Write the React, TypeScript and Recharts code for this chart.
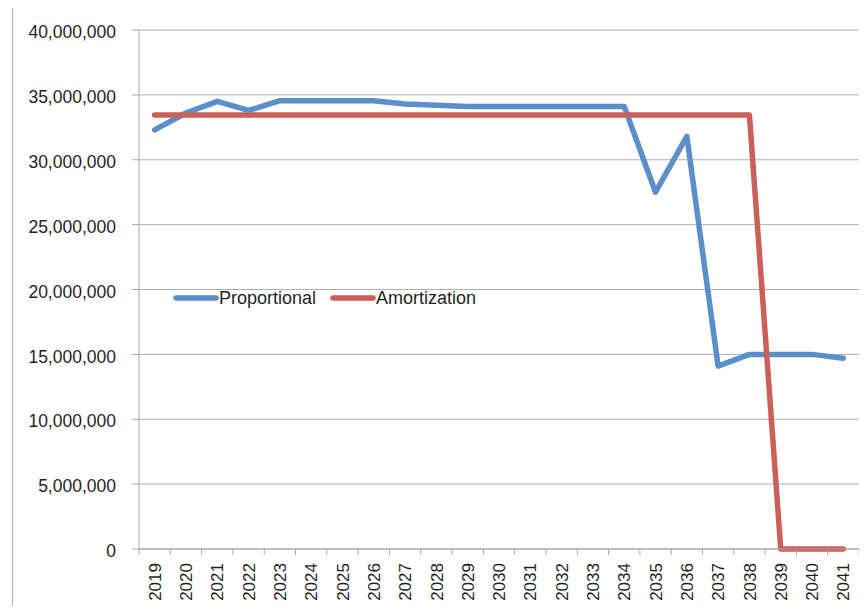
import React from 'react';
import { LineChart, Line, XAxis, YAxis, CartesianGrid, Legend } from 'recharts';

const years = ['2019','2020','2021','2022','2023','2024','2025','2026','2027','2028','2029','2030','2031','2032','2033','2034','2035','2036','2037','2038','2039','2040','2041'];
const proportional = [32300000,33600000,34500000,33800000,34550000,34550000,34550000,34550000,34300000,34200000,34100000,34100000,34100000,34100000,34100000,34100000,27500000,31800000,14100000,15000000,15000000,15000000,14700000];
const amortization = [33450000,33450000,33450000,33450000,33450000,33450000,33450000,33450000,33450000,33450000,33450000,33450000,33450000,33450000,33450000,33450000,33450000,33450000,33450000,33450000,0,0,0];
const yTicks = [0,5000000,10000000,15000000,20000000,25000000,30000000,35000000,40000000];

const data = years.map((y, i) => ({ year: y, Proportional: proportional[i], Amortization: amortization[i] }));

const BLUE = '#5b8fc9';
const RED = '#cb5f59';
const AXIS = '#a6a6a6';
const FONT = '"Liberation Sans", Arial, sans-serif';

const CHART_W = 867;
const CHART_H = 614;
const M = { top: 30, right: 8, left: 0, bottom: 0 };
const Y_W = 139;
const X_H = 65;
const BAND = (CHART_W - M.right - Y_W) / years.length;
const X_TICK_SIZE = 6;
const X_TICK_MARGIN = 8;
const LINE_W = 5.5;

const fmt = (v: number) => v.toLocaleString('en-US');

const XTick = (props: any) => {
  const { x, y, payload, index } = props;
  const axisY = y - X_TICK_SIZE - X_TICK_MARGIN;
  const left = x - BAND / 2;
  const right = x + BAND / 2;
  return (
    <g>
      <line x1={left} x2={left} y1={axisY} y2={axisY + X_TICK_SIZE} stroke={AXIS} />
      {index === years.length - 1 && (
        <line x1={right} x2={right} y1={axisY} y2={axisY + X_TICK_SIZE} stroke={AXIS} />
      )}
      <text
        x={x}
        y={y}
        dy="0.36em"
        textAnchor="end"
        transform={`rotate(-90, ${x}, ${y})`}
        fontSize={17}
        fontFamily={FONT}
        fill="#1f1f1f"
      >
        {payload.value}
      </text>
    </g>
  );
};

const LegendContent = () => {
  const items = [
    { name: 'Proportional', color: BLUE },
    { name: 'Amortization', color: RED },
  ];
  return (
    <div style={{ display: 'flex', alignItems: 'center', fontFamily: FONT, fontSize: 18, color: '#1f1f1f', whiteSpace: 'nowrap' }}>
      {items.map((it, i) => (
        <div key={it.name} style={{ display: 'flex', alignItems: 'center', marginRight: i === 0 ? 14 : 0 }}>
          <svg width={46} height={10} style={{ display: 'block' }}>
            <line x1={3} x2={43} y1={5} y2={5} stroke={it.color} strokeWidth={LINE_W} strokeLinecap="round" />
          </svg>
          <span style={{ lineHeight: '20px' }}>{it.name}</span>
        </div>
      ))}
    </div>
  );
};

export default function App() {
  return (
    <div style={{ position: 'relative', width: CHART_W, height: CHART_H, margin: -8, overflow: 'hidden', background: '#fff' }}>
      <div style={{ position: 'absolute', left: 12, top: 4, width: 900, height: 700, border: '1px solid #b4b4b4', boxSizing: 'border-box' }} />
      <div style={{ position: 'absolute', left: 0, top: 0 }}>
        <LineChart width={CHART_W} height={CHART_H} data={data} margin={M}>
          <CartesianGrid vertical={false} stroke="#b0b0b0" strokeWidth={1} />
          <XAxis
            dataKey="year"
            scale="band"
            height={X_H}
            interval={0}
            tickLine={false}
            tickSize={X_TICK_SIZE}
            tickMargin={X_TICK_MARGIN}
            axisLine={{ stroke: AXIS }}
            tick={<XTick />}
          />
          <YAxis
            width={Y_W}
            domain={[0, 40000000]}
            ticks={yTicks}
            interval={0}
            tickFormatter={fmt}
            tickSize={7}
            tickMargin={16}
            axisLine={{ stroke: AXIS }}
            tickLine={{ stroke: AXIS }}
            tick={{ fontSize: 17.5, fontFamily: FONT, fill: '#1f1f1f', dy: 2 }}
          />
          <Legend
            layout="horizontal"
            verticalAlign="middle"
            align="center"
            content={<LegendContent />}
            wrapperStyle={{ position: 'absolute', left: 173, top: 288, width: 'auto', height: 'auto' }}
          />
          <Line
            type="linear"
            dataKey="Proportional"
            stroke={BLUE}
            strokeWidth={LINE_W}
            dot={false}
            activeDot={false}
            strokeLinejoin="round"
            strokeLinecap="round"
            isAnimationActive={false}
          />
          <Line
            type="linear"
            dataKey="Amortization"
            stroke={RED}
            strokeWidth={LINE_W}
            dot={false}
            activeDot={false}
            strokeLinejoin="round"
            strokeLinecap="round"
            isAnimationActive={false}
          />
        </LineChart>
      </div>
    </div>
  );
}
